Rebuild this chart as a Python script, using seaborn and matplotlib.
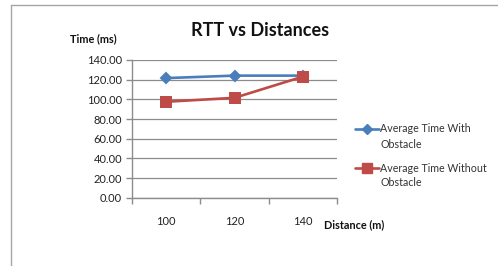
import matplotlib
matplotlib.use("Agg")
import matplotlib.pyplot as plt
import seaborn as sns
import pandas as pd
from matplotlib.lines import Line2D

distances = ["100", "120", "140"]
with_obstacle = [121.5, 124.0, 124.0]
without_obstacle = [97.5, 101.5, 123.0]
series_first = ["Average Time With", "Average Time Without"]
series_second = ["Obstacle", "Obstacle"]
series_names = [a + " " + b for a, b in zip(series_first, series_second)]
y_ticks = [0, 20, 40, 60, 80, 100, 120, 140]

sns.set_theme(style="white")
plt.rcParams['font.family'] = ['Lato', 'DejaVu Sans']

df = pd.DataFrame({
    "Distance": distances * 2,
    "Time": with_obstacle + without_obstacle,
    "Series": [series_names[0]] * 3 + [series_names[1]] * 3,
})

blue = "#4A7EBB"
red = "#BE4B48"
grid = "#8C8C8C"

fig = plt.figure(figsize=(4.98, 2.66), dpi=100)
ax = fig.add_axes([0.265, 0.256, 0.412, 0.519])

sns.pointplot(data=df, x="Distance", y="Time", hue="Series", order=distances,
              hue_order=series_names, palette=[blue, red], markers=["D", "s"],
              linestyles=["-", "-"], errorbar=None, ax=ax, linewidth=1.9)

for ln in ax.lines:
    if ln.get_marker() == "D":
        ln.set_markersize(5)
    elif ln.get_marker() == "s":
        ln.set_markersize(7.2)

leg = ax.get_legend()
if leg is not None:
    leg.remove()

ax.set_ylim(0, 140)
ax.set_xlim(-0.5, 2.5)
ax.set_yticks(y_ticks)
ax.set_yticklabels([f"{v:.2f}" for v in y_ticks])
ax.set_xticks([0, 1, 2])
ax.set_xticklabels(distances)
ax.set_xticks([-0.5, 0.5, 1.5, 2.5], minor=True)
ax.tick_params(axis="x", which="major", length=0, pad=13, labelsize=8, colors="#222222")
ax.tick_params(axis="x", which="minor", length=4, width=1, color=grid, direction="out", bottom=True)
ax.tick_params(axis="y", length=4, width=1, color=grid, direction="out", left=True, pad=3,
               labelsize=8, colors="#222222")
ax.yaxis.grid(True, color=grid, linewidth=0.9)
ax.set_axisbelow(True)
for s in ["top", "right"]:
    ax.spines[s].set_visible(False)
for s in ["left", "bottom"]:
    ax.spines[s].set_color(grid)
    ax.spines[s].set_linewidth(1)
ax.set_xlabel("")
ax.set_ylabel("")

fig.text(0.523, 0.885, "RTT vs Distances", ha="center", va="center", fontsize=13,
         fontweight="bold", color="#111111")
fig.text(0.141, 0.855, "Time (ms)", ha="left", va="center", fontsize=7.8,
         fontweight="bold", color="#111111")
fig.text(0.651, 0.157, "Distance (m)", ha="left", va="center", fontsize=7.8,
         fontweight="bold", color="#111111")

handles = [Line2D([], [], color=blue, marker="D", markersize=5, linewidth=1.9),
           Line2D([], [], color=red, marker="s", markersize=7.2, linewidth=1.9)]
fig.legend(handles, series_first, loc="center left", bbox_to_anchor=(0.694, 0.442),
           frameon=False, fontsize=7.7, handlelength=2.25, handletextpad=0.1,
           labelspacing=2.65, labelcolor="#333333")
for y, t in zip([1 - 144/266, 1 - 183/266], series_second):
    fig.text(380/498, y, t, ha="left", va="center", fontsize=7.7, color="#333333")

# chart outer frame
frame = "#A6A6A6"
fig.add_artist(Line2D([11/498, 11/498], [0, 1 - 5/266], color=frame, linewidth=1,
                      transform=fig.transFigure))
fig.add_artist(Line2D([11/498, 1], [1 - 5/266, 1 - 5/266], color=frame, linewidth=1,
                      transform=fig.transFigure))

fig.savefig("out.png", dpi=100, facecolor="white")
